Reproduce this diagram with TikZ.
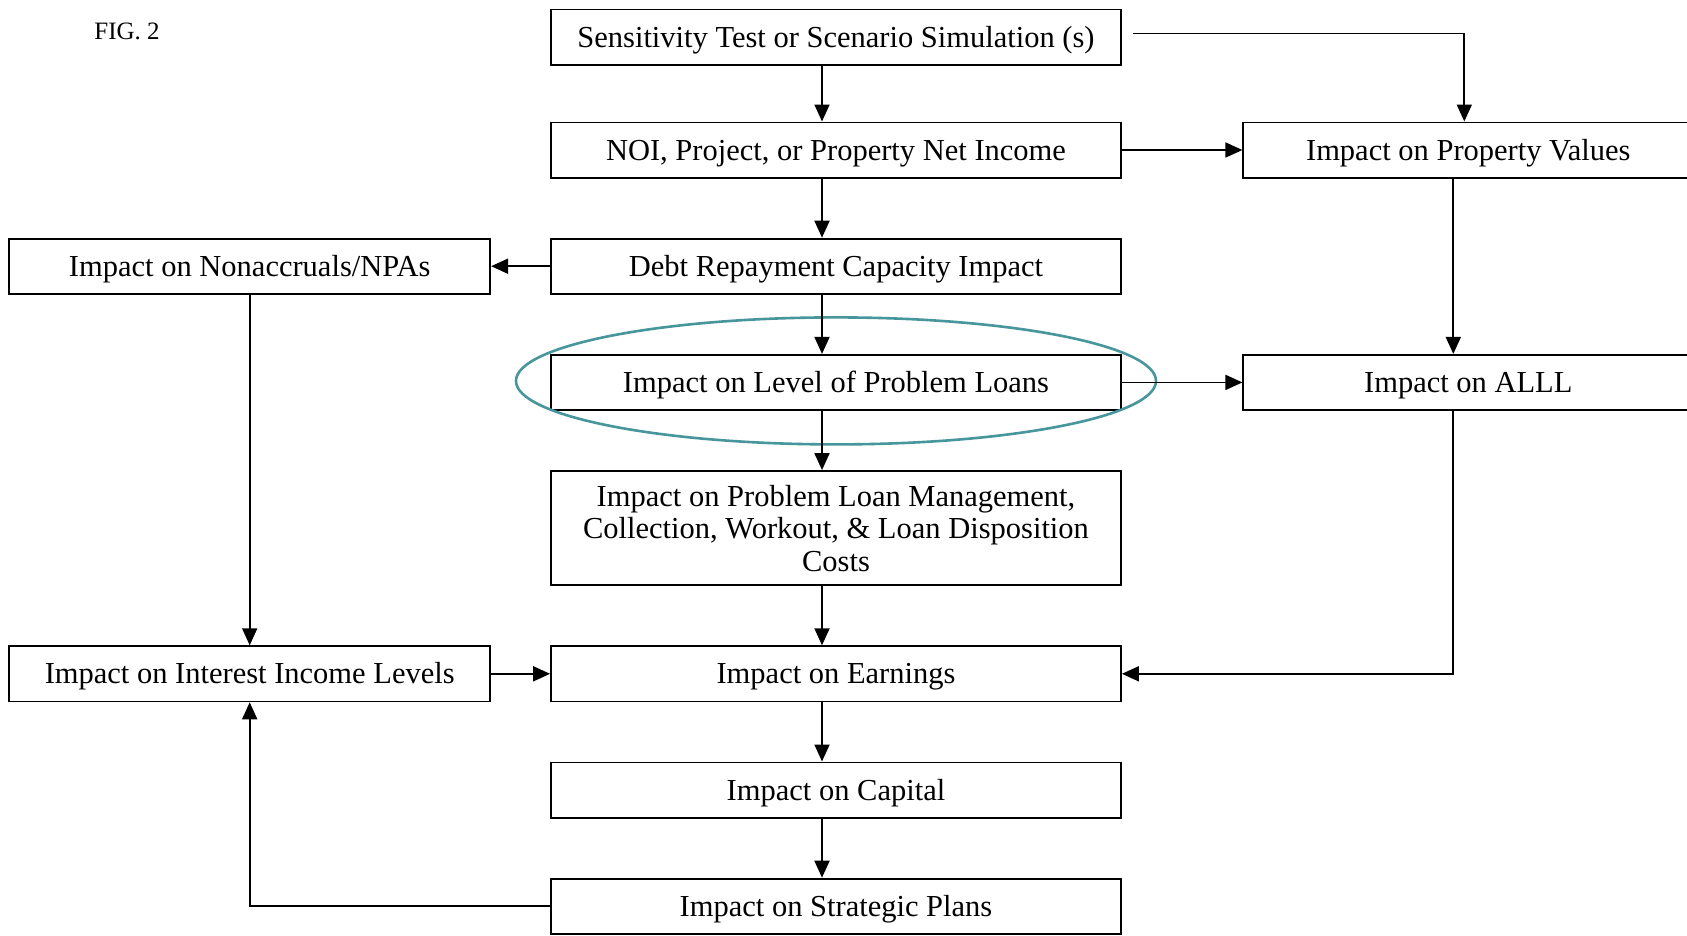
\documentclass[tikz,border=0pt]{standalone}
\usepackage{fontspec}
\setmainfont{Liberation Serif}
\usepackage{xcolor}
\usetikzlibrary{arrows.meta, positioning}
\definecolor{ringteal}{RGB}{70,150,156}

\begin{document}
\begin{tikzpicture}[
      x=1pt, y=-1pt,
      node distance=59.2pt and 59pt,
      box/.style={draw, line width=1.8pt, fill=white, minimum height=55.2pt, minimum width=570pt, align=center, text height=20pt, text depth=0pt, font=\fontsize{30.5}{32.5}\selectfont},
      sidebox/.style={box, minimum width=481pt},
      arr/.style={-{Triangle[length=17pt, width=15pt]}, line width=1.8pt},
      ring/.style={draw=ringteal, line width=2.6pt}
    ]
    \clip (0,0) rectangle (1687,935);
    \fill[white] (0,0) rectangle (1687,935);
    \node[font=\fontsize{25}{27}\selectfont] (fig) at (127,31) {FIG. 2};
    \node[box] (sens) at (836,37) {Sensitivity Test or Scenario Simulation (s)};
    \node[box, below=56pt of sens] (noi) {NOI, Project, or Property Net Income};
    \node[box, below=of noi] (debt) {Debt Repayment Capacity Impact};
    \node[box, below=of debt] (loans) {Impact on Level of Problem Loans};
    \node[box, below=of loans, minimum height=114.2pt, text height=, text depth=] (mgmt) {Impact on Problem Loan Management,\\Collection, Workout, \& Loan Disposition\\Costs};
    \node[box, below=of mgmt] (earn) {Impact on Earnings};
    \node[box, below=of earn] (cap) {Impact on Capital};
    \node[box, below=of cap] (strat) {Impact on Strategic Plans};
    \node[sidebox, left=of debt] (nonacc) {Impact on Nonaccruals/NPAs};
    \node[sidebox, left=of earn] (inter) {Impact on Interest Income Levels};
    \node[sidebox, minimum width=450pt, right=120.5pt of noi] (prop) {Impact on Property Values};
    \node[sidebox, minimum width=450pt, right=120.5pt of loans] (alll) {Impact on ALLL};

    \draw[ring] (loans.center) ++(0,-1.5) ellipse (320 and 63.5);

    \draw[arr] ([xshift=-14pt]sens.south) -- ([xshift=-14pt]noi.north);
    \draw[arr] ([xshift=-14pt]noi.south) -- ([xshift=-14pt]debt.north);
    \draw[arr] ([xshift=-14pt]debt.south) -- ([xshift=-14pt]loans.north);
    \draw[arr] ([xshift=-14pt]loans.south) -- ([xshift=-14pt]mgmt.north);
    \draw[arr] ([xshift=-14pt]mgmt.south) -- ([xshift=-14pt]earn.north);
    \draw[arr] ([xshift=-14pt]earn.south) -- ([xshift=-14pt]cap.north);
    \draw[arr] ([xshift=-14pt]cap.south) -- ([xshift=-14pt]strat.north);
    \draw[arr] ([xshift=11pt, yshift=3.6pt]sens.east) -| ([xshift=-4pt]prop.north);
    \draw[arr] (noi.east) -- (noi.east -| prop.west);
    \draw[arr] ([xshift=-15pt]prop.south) -- ([xshift=-15pt]alll.north);
    \draw[arr] (loans) -- (alll);
    \draw[arr] (debt) -- (nonacc);
    \draw[arr] (nonacc) -- (inter);
    \draw[arr] (inter) -- (earn);
    \draw[arr] ([xshift=-15pt]alll.south) |- (earn.east);
    \draw[arr] (strat.west) -| (inter.south);
  \end{tikzpicture}
\end{document}
